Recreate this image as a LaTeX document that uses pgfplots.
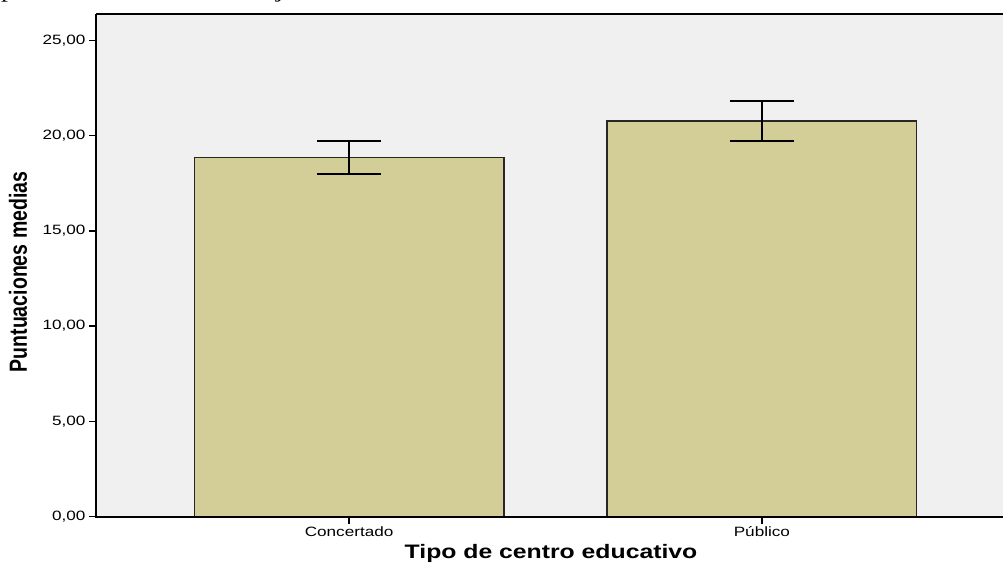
\documentclass[border=0pt]{standalone}
\usepackage{pgfplots}
\pgfplotsset{compat=1.18}
\usepackage{fontspec}
\setmainfont{Liberation Serif}
\newfontfamily\wide[FakeStretch=1.27]{Liberation Sans}
\newfontfamily\narrow[FakeStretch=0.787]{Liberation Sans}
\newfontfamily\serifwide[FakeStretch=1.27]{Liberation Serif}
\definecolor{barfill}{RGB}{211,206,151}
\definecolor{plotbg}{RGB}{240,240,240}

\begin{document}
\begin{tikzpicture}
\useasboundingbox (0pt,0pt) rectangle (1003pt,568pt);
% descenders of the text line above the chart
\node[anchor=base west, inner sep=0pt, font=\serifwide\fontsize{22}{22}\selectfont] at (1pt,570pt) {p};
\node[anchor=base west, inner sep=0pt, font=\serifwide\fontsize{22}{22}\selectfont] at (276pt,570pt) {j};

\begin{axis}[
  at={(96pt,51.5pt)}, anchor=south west,
  scale only axis, width=907pt, height=502.5pt,
  xmin=-0.613, xmax=1.584, ymin=0, ymax=26.39,
  clip=false,
  axis background/.style={fill=plotbg},
  axis line style={draw=none},
  xtick={0,1}, xticklabels={Concertado, Público},
  ytick={0,5,10,15,20,25},
  yticklabels={{0,00},{5,00},{10,00},{15,00},{20,00},{25,00}},
  xtick pos=bottom, ytick pos=left,
  tick align=outside, major tick length=7pt,
  tick style={black, line width=1.5pt},
  tick label style={font=\wide\fontsize{13.5}{14}\selectfont, text=black},
  ybar, bar width=0.75,
]
\addplot[fill=barfill, draw=black!85, line width=1.3pt,
  error bars/.cd, y dir=both, y explicit,
  error bar style={line width=2pt, black},
  error mark options={rotate=90, mark size=32pt, line width=2pt, black}]
  coordinates {
    (0,18.87) +- (0,0.87)
    (1,20.77) +- (0,1.03)
  };
\draw[line width=2pt, black] (rel axis cs:0,1) -- (rel axis cs:1,1);
\draw[line width=2pt, black] (rel axis cs:0,1) -- (rel axis cs:0,0) -- (rel axis cs:1,0);
\end{axis}

\node[rotate=90, font=\narrow\bfseries\fontsize{24.8}{25}\selectfont] at (18pt,296pt) {Puntuaciones medias};
\node[font=\wide\bfseries\fontsize{19.5}{20}\selectfont] at (551pt,15pt) {Tipo de centro educativo};
\end{tikzpicture}
\end{document}
